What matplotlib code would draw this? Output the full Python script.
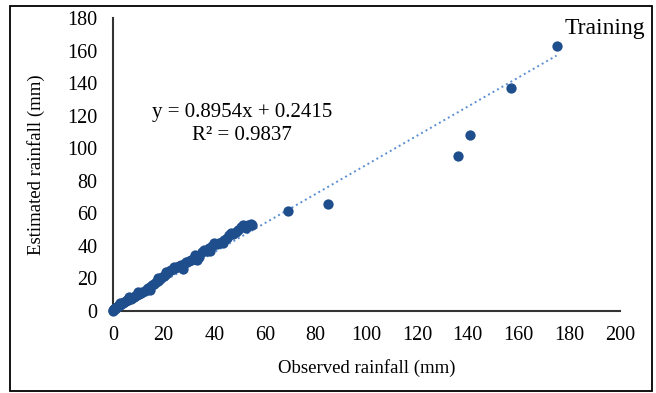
import numpy as np
import matplotlib.pyplot as plt
from matplotlib.patches import Rectangle

plt.rcParams['font.family'] = ['Liberation Serif', 'DejaVu Serif']

# observed vs estimated rainfall (mm)
observed = [0.0, 0.2, 0.4, 0.6, 0.8, 1.0, 1.3, 1.6, 2.0, 2.3, 2.7, 3.0, 3.4, 3.8, 4.2,
            4.6, 5.0, 5.5, 6.0, 6.5, 7.0, 7.6, 8.2, 8.8, 9.5, 10.2, 11.0, 11.7, 12.5,
            13.3, 14.0, 14.8, 15.5, 16.3, 17.0, 17.8, 18.5, 19.2, 20.0, 20.8, 21.5,
            22.3, 23.0, 23.8, 24.5, 25.3, 26.0, 27.0, 28.0, 29.0, 30.0, 31.0, 31.8,
            32.5, 34.0, 35.0, 36.0, 37.0, 38.0, 39.0, 40.0, 41.0, 42.0, 43.0, 44.0,
            45.0, 46.0, 46.8, 47.5, 48.5, 49.5, 50.5, 51.5, 52.5, 53.5, 54.5, 55.0,
            3.0, 6.5, 10.0, 14.5, 18.0, 21.0, 24.0, 27.5, 33.0, 38.5, 43.5,
            69.0, 85.0, 136.0, 141.0, 157.0, 175.0]
estimated = [0.0, 0.5, 0.9, 1.2, 1.4, 1.8, 2.0, 2.4, 2.9, 3.3, 3.5, 4.0, 4.2, 4.8, 5.0,
             5.5, 5.9, 6.4, 6.8, 7.1, 7.6, 8.0, 8.6, 9.0, 9.7, 10.3, 11.0, 11.6, 12.4,
             13.3, 14.0, 14.9, 15.8, 16.7, 17.6, 18.6, 19.6, 20.6, 21.5, 22.6, 23.4,
             24.2, 25.0, 25.8, 26.4, 27.0, 27.6, 28.4, 29.0, 29.8, 30.4, 31.2, 32.0,
             34.5, 33.0, 36.0, 37.5, 37.0, 38.5, 40.0, 41.5, 40.8, 42.0, 42.6, 43.5,
             45.0, 46.5, 48.0, 47.0, 48.5, 49.5, 51.5, 52.5, 51.0, 52.5, 53.5, 52.5,
             5.0, 8.5, 11.5, 13.0, 20.5, 24.0, 27.0, 26.0, 31.5, 37.0, 42.0,
             61.5, 66.0, 95.0, 108.0, 137.0, 163.0]

slope = 0.8954
intercept = 0.2415
r2 = 0.9837

point_color = '#1f4e8c'

fig = plt.figure(figsize=(6.56, 3.93), dpi=100)
ax = fig.add_axes([0.172, 0.209, 0.773, 0.745])

ax.scatter(observed, estimated, s=55, color=point_color, zorder=3, linewidths=0,
           clip_on=False)

xs = np.array([0, max(observed)])
ax.plot(xs, slope * xs + intercept, linestyle=':', color='#5b8fd4', linewidth=1.4, zorder=2)

ax.set_xlim(0, 200)
ax.set_ylim(0, 180)
ax.set_xticks(range(0, 201, 20))
ax.set_yticks(range(0, 181, 20))
ax.spines['top'].set_visible(False)
ax.spines['right'].set_visible(False)
ax.spines['left'].set_color('#333333')
ax.spines['bottom'].set_color('#333333')
ax.spines['left'].set_linewidth(1.5)
ax.spines['bottom'].set_linewidth(1.5)
ax.tick_params(length=0, labelsize=14.5)
ax.tick_params(axis='x', pad=11)
ax.tick_params(axis='y', pad=11)

ax.set_xlabel('Observed rainfall (mm)', fontsize=13.5, labelpad=10)
ax.set_ylabel('Estimated rainfall (mm)', fontsize=13.5, labelpad=16)

ax.text(51, 122, f'y = {slope}x + {intercept}', fontsize=15, ha='center', va='center')
ax.text(51, 108, f'R² = {r2}', fontsize=15, ha='center', va='center')

fig.text(0.983, 0.928, 'Training', fontsize=17, ha='right', va='center')

fig.patches.append(Rectangle((0.015, 0.005), 0.979, 0.98, transform=fig.transFigure,
                             fill=False, edgecolor='black', linewidth=1.3))

fig.savefig('out.png', dpi=100)
